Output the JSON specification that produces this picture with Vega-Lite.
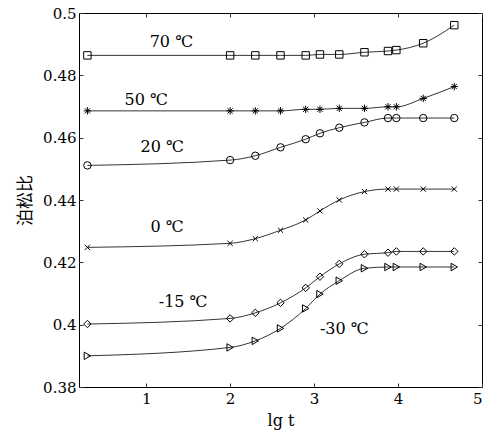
{
  "$schema": "https://vega.github.io/schema/vega-lite/v6.json",
  "width": 403,
  "height": 374,
  "autosize": "none",
  "padding": {"left": 79, "top": 13, "right": 20, "bottom": 60},
  "background": "white",
  "config": {
    "view": {"stroke": "black", "strokeWidth": 1},
    "font": "DejaVu Serif",
    "axis": {
      "grid": false,
      "domain": false,
      "tickColor": "#333",
      "tickSize": -4,
      "labelFont": "DejaVu Serif",
      "labelFontSize": 15,
      "labelColor": "black",
      "titleColor": "black",
      "titleFontWeight": "normal"
    }
  },
  "datasets": {
    "pts": [
      {"T":70,"x":0.3,"y":0.4864},{"T":70,"x":2.0,"y":0.4864},{"T":70,"x":2.3,"y":0.4864},{"T":70,"x":2.6,"y":0.4864},{"T":70,"x":2.9,"y":0.4864},{"T":70,"x":3.07,"y":0.4867},{"T":70,"x":3.3,"y":0.4867},{"T":70,"x":3.6,"y":0.4874},{"T":70,"x":3.88,"y":0.4878},{"T":70,"x":3.98,"y":0.4881},{"T":70,"x":4.3,"y":0.4903},{"T":70,"x":4.67,"y":0.4961},
      {"T":50,"x":0.3,"y":0.4686},{"T":50,"x":2.0,"y":0.4686},{"T":50,"x":2.3,"y":0.4686},{"T":50,"x":2.6,"y":0.4686},{"T":50,"x":2.9,"y":0.4691},{"T":50,"x":3.07,"y":0.4691},{"T":50,"x":3.3,"y":0.4694},{"T":50,"x":3.6,"y":0.4694},{"T":50,"x":3.88,"y":0.4699},{"T":50,"x":3.98,"y":0.4699},{"T":50,"x":4.3,"y":0.4726},{"T":50,"x":4.67,"y":0.4764},
      {"T":20,"x":0.3,"y":0.4511},{"T":20,"x":2.0,"y":0.4528},{"T":20,"x":2.3,"y":0.4542},{"T":20,"x":2.6,"y":0.4569},{"T":20,"x":2.9,"y":0.4595},{"T":20,"x":3.07,"y":0.4614},{"T":20,"x":3.3,"y":0.4632},{"T":20,"x":3.6,"y":0.4649},{"T":20,"x":3.88,"y":0.4663},{"T":20,"x":3.98,"y":0.4663},{"T":20,"x":4.3,"y":0.4663},{"T":20,"x":4.67,"y":0.4663},
      {"T":0,"x":0.3,"y":0.4248},{"T":0,"x":2.0,"y":0.4261},{"T":0,"x":2.3,"y":0.4276},{"T":0,"x":2.6,"y":0.4303},{"T":0,"x":2.9,"y":0.4336},{"T":0,"x":3.07,"y":0.4365},{"T":0,"x":3.3,"y":0.44},{"T":0,"x":3.6,"y":0.4427},{"T":0,"x":3.88,"y":0.4435},{"T":0,"x":3.98,"y":0.4435},{"T":0,"x":4.3,"y":0.4435},{"T":0,"x":4.67,"y":0.4435},
      {"T":-15,"x":0.3,"y":0.4002},{"T":-15,"x":2.0,"y":0.402},{"T":-15,"x":2.3,"y":0.4038},{"T":-15,"x":2.6,"y":0.407},{"T":-15,"x":2.9,"y":0.4118},{"T":-15,"x":3.07,"y":0.4154},{"T":-15,"x":3.3,"y":0.4195},{"T":-15,"x":3.6,"y":0.4226},{"T":-15,"x":3.88,"y":0.4231},{"T":-15,"x":3.98,"y":0.4235},{"T":-15,"x":4.3,"y":0.4235},{"T":-15,"x":4.67,"y":0.4235},
      {"T":-30,"x":0.3,"y":0.39},{"T":-30,"x":2.0,"y":0.3927},{"T":-30,"x":2.3,"y":0.3948},{"T":-30,"x":2.6,"y":0.3988},{"T":-30,"x":2.9,"y":0.4052},{"T":-30,"x":3.07,"y":0.4098},{"T":-30,"x":3.3,"y":0.4141},{"T":-30,"x":3.6,"y":0.4181},{"T":-30,"x":3.88,"y":0.4185},{"T":-30,"x":3.98,"y":0.4185},{"T":-30,"x":4.3,"y":0.4185},{"T":-30,"x":4.67,"y":0.4185}
    ],
    "labels": [
      {"label":"70 ℃","x":1.3,"y":0.4907},
      {"label":"50 ℃","x":1.0,"y":0.4721},
      {"label":"20 ℃","x":1.19,"y":0.457},
      {"label":"0 ℃","x":1.25,"y":0.4313},
      {"label":"-15 ℃","x":1.44,"y":0.4073},
      {"label":"-30 ℃","x":3.36,"y":0.3986}
    ]
  },
  "resolve": {"axis": {"x": "independent", "y": "independent"}},
  "layer": [
    {
      "data": {"name": "pts"},
      "mark": {"type": "line", "color": "black", "strokeWidth": 0.8, "interpolate": "monotone"},
      "encoding": {
        "x": {"field": "x", "type": "quantitative", "scale": {"domain": [0.2, 5], "nice": false, "zero": false},
              "axis": {"orient": "bottom", "values": [1, 2, 3, 4, 5], "format": "d", "title": "lg t", "titleFont": "DejaVu Serif", "titleFontSize": 16, "labelPadding": 8, "titlePadding": 6}},
        "y": {"field": "y", "type": "quantitative", "scale": {"domain": [0.38, 0.5], "nice": false, "zero": false},
              "axis": {"orient": "left", "values": [0.38, 0.4, 0.42, 0.44, 0.46, 0.48, 0.5], "format": "~g", "title": "泊松比", "titleFont": "Noto Sans CJK SC", "titleFontSize": 17, "labelPadding": 7, "titlePadding": 8}},
        "detail": {"field": "T"}
      }
    },
    {
      "data": {"name": "pts"},
      "mark": {"type": "point", "filled": false, "stroke": "black", "strokeWidth": 1, "size": 55, "opacity": 1},
      "encoding": {
        "x": {"field": "x", "type": "quantitative", "axis": {"orient": "top", "values": [1, 2, 3, 4, 5], "labels": false, "title": null}},
        "y": {"field": "y", "type": "quantitative", "axis": {"orient": "right", "values": [0.38, 0.4, 0.42, 0.44, 0.46, 0.48, 0.5], "labels": false, "title": null}},
        "shape": {"field": "T", "type": "nominal", "legend": null,
                  "scale": {"domain": [70, 50, 20, 0, -15, -30],
                            "range": ["square", "M-1,0L1,0M0,-1L0,1M-0.7,-0.7L0.7,0.7M-0.7,0.7L0.7,-0.7", "circle", "M-0.7,-0.7L0.7,0.7M-0.7,0.7L0.7,-0.7", "diamond", "triangle-right"]}}
      }
    },
    {
      "data": {"name": "labels"},
      "mark": {"type": "text", "fontSize": 16, "font": "DejaVu Serif", "color": "black"},
      "encoding": {
        "x": {"field": "x", "type": "quantitative", "axis": null},
        "y": {"field": "y", "type": "quantitative", "axis": null},
        "text": {"field": "label"}
      }
    }
  ]
}
